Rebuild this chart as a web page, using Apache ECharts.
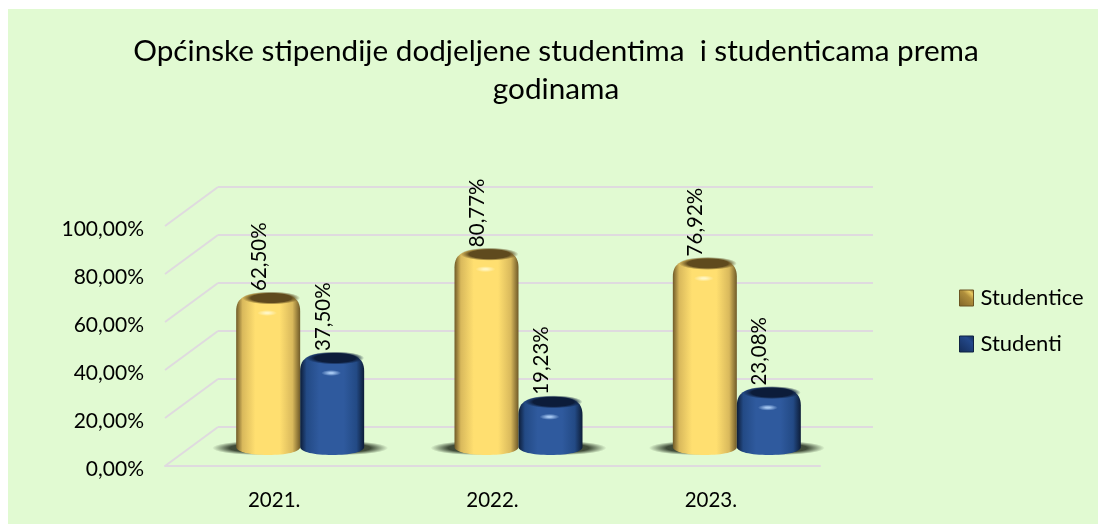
<!DOCTYPE html>
<html>
<head>
<meta charset="utf-8">
<style>
  html, body { margin: 0; padding: 0; background: #fff; }
  #chart { width: 1098px; height: 524px; }
</style>
<script src="https://cdn.jsdelivr.net/npm/echarts@6/dist/echarts.min.js"></script>
</head>
<body>
<div id="chart"></div>
<script>
const categories = ['2021.', '2022.', '2023.'];
const studentice = [62.5, 80.77, 76.92];
const studenti = [37.5, 19.23, 23.08];
const yTicks = [0, 20, 40, 60, 80, 100];
const titleText = 'Općinske stipendije dodjeljene studentima  i studenticama prema\ngodinama';

const fontName = 'Lato';
const yellow = { edge: '#6f5a28', side: '#d9b95c', mid: '#ffdf70', top: '#5f4a1e', spot: '#fff6c4' };
const blue = { edge: '#0d1d38', side: '#234a85', mid: '#2f5a9e', top: '#0c1c3a', spot: '#a4c6f0' };
const gridColor = '#dfdadf';

const fmt = v => v.toFixed(2).replace('.', ',') + '%';

// soft blob: a circle with a radial fade, squashed to an ellipse
const blob = (x, y, rx, ry, color, fade) => ({
  type: 'circle',
  x: x,
  y: y,
  scaleY: ry / rx,
  shape: { cx: 0, cy: 0, r: rx },
  style: {
    fill: new echarts.graphic.RadialGradient(0.5, 0.5, 0.5, [
      { offset: 0, color: color },
      { offset: fade, color: color },
      { offset: 1, color: echarts.color.modifyAlpha(color, 0) }
    ])
  }
});

// one cylinder, side 0 = left of the category centre, 1 = right
const cylinder = (colors, side) => (params, api) => {
  const base = api.coord([api.value(0), 0]);
  const top = api.coord([api.value(0), api.value(1)]);
  const w = 64;
  const x0 = base[0] + (side ? 0 : -w);
  const x1 = x0 + w;
  const cx = (x0 + x1) / 2;
  const by = base[1];
  const ty = top[1] - 4;
  const d = 'M' + x0 + ' ' + (ty + 18)
    + 'C' + x0 + ' ' + (ty + 4) + ' ' + (cx - 22) + ' ' + ty + ' ' + cx + ' ' + ty
    + 'C' + (cx + 22) + ' ' + ty + ' ' + x1 + ' ' + (ty + 4) + ' ' + x1 + ' ' + (ty + 18)
    + 'L' + x1 + ' ' + by
    + 'C' + x1 + ' ' + (by + 5) + ' ' + (cx + 18) + ' ' + (by + 8) + ' ' + cx + ' ' + (by + 8)
    + 'C' + (cx - 18) + ' ' + (by + 8) + ' ' + x0 + ' ' + (by + 5) + ' ' + x0 + ' ' + by + 'Z';
  return {
    type: 'group',
    children: [
      blob(cx + (side ? 12 : -12), by + 1, 44, 7, 'rgba(35,45,30,0.85)', 0.6),
      {
        type: 'path',
        shape: { pathData: d },
        style: {
          fill: new echarts.graphic.LinearGradient(0, 0, 1, 0, [
            { offset: 0, color: colors.edge },
            { offset: 0.1, color: colors.side },
            { offset: 0.3, color: colors.mid },
            { offset: 0.68, color: colors.mid },
            { offset: 0.88, color: colors.side },
            { offset: 1, color: colors.edge }
          ])
        }
      },
      blob(cx + 3, ty + 5, 29, 6.5, colors.top, 0.7),
      blob(cx - 1, ty + 20, 10, 3, colors.spot, 0.2),
      {
        type: 'text',
        x: cx - 9,
        y: ty - 2,
        rotation: Math.PI / 2,
        style: {
          text: fmt(api.value(1)),
          fontFamily: fontName,
          fontSize: 20.5,
          fill: '#000',
          align: 'left',
          verticalAlign: 'middle'
        }
      }
    ]
  };
};

const option = {
  animation: false,
  graphic: [
    { type: 'rect', z: -10, shape: { x: 8, y: 9, width: 1090, height: 515 }, style: { fill: '#e1fad2' } }
  ],
  title: {
    text: titleText,
    left: 551,
    top: 27,
    textAlign: 'center',
    textStyle: { fontFamily: fontName, fontSize: 29.7, fontWeight: 'normal', color: '#000', lineHeight: 38 }
  },
  legend: {
    orient: 'vertical',
    left: 959,
    top: 287,
    padding: 0,
    itemWidth: 14,
    itemHeight: 16,
    itemGap: 24,
    textStyle: { fontFamily: fontName, fontSize: 22, color: '#000', padding: [0, 0, 0, 2] },
    data: [
      {
        name: 'Studentice',
        icon: 'rect',
        itemStyle: {
          borderColor: '#6b5422',
          borderWidth: 1,
          color: new echarts.graphic.LinearGradient(0, 1, 1, 0, [
            { offset: 0, color: '#7d6228' },
            { offset: 0.6, color: '#b08f3c' },
            { offset: 0.8, color: '#e8c860' },
            { offset: 1, color: '#8a6f2c' }
          ])
        }
      },
      {
        name: 'Studenti',
        icon: 'rect',
        itemStyle: {
          borderColor: '#0f2342',
          borderWidth: 1,
          color: new echarts.graphic.LinearGradient(0, 1, 1, 0, [
            { offset: 0, color: '#142c58' },
            { offset: 0.7, color: '#23488a' },
            { offset: 1, color: '#142c58' }
          ])
        }
      }
    ]
  },
  grid: [
    // front plane: tick labels and floor edge
    { left: 165, width: 655, top: 226, height: 240 },
    // back wall: gridlines
    { left: 218, width: 655, top: 187, height: 240 },
    // mid depth: the cylinders stand here
    { left: 191, width: 655, top: 207, height: 240 }
  ],
  xAxis: [0, 1, 2].map(i => ({
    gridIndex: i,
    type: 'category',
    data: categories,
    axisTick: { show: false },
    axisLine: { show: i === 0, lineStyle: { color: gridColor, width: 2 } },
    axisLabel: { show: i === 0, fontFamily: fontName, fontSize: 20.5, color: '#000', margin: 24 }
  })),
  yAxis: [0, 1, 2].map(i => ({
    gridIndex: i,
    type: 'value',
    min: 0,
    max: 100,
    interval: 20,
    axisLine: { show: false },
    axisTick: { show: false },
    splitLine: { show: i === 1, lineStyle: { color: gridColor, width: 2 } },
    axisLabel: {
      show: i === 0,
      fontFamily: fontName,
      fontSize: 21,
      color: '#000',
      margin: 21,
      verticalAlign: 'top',
      lineHeight: 6,
      formatter: v => fmt(v)
    }
  })),
  series: [
    {
      // slanted lines joining the front plane to the back wall
      type: 'custom',
      name: 'depth',
      silent: true,
      xAxisIndex: 0,
      yAxisIndex: 0,
      data: yTicks.map(v => [0, v]),
      encode: { x: 0, y: 1 },
      renderItem: (params, api) => {
        const grid = params.coordSys;
        const y = api.coord([0, api.value(1)])[1];
        return {
          type: 'line',
          shape: { x1: grid.x, y1: y, x2: grid.x + 53, y2: y - 39 },
          style: { stroke: gridColor, lineWidth: 2 }
        };
      }
    },
    {
      type: 'custom',
      name: 'Studentice',
      xAxisIndex: 2,
      yAxisIndex: 2,
      z: 3,
      data: categories.map((c, i) => [i, studentice[i]]),
      encode: { x: 0, y: 1 },
      renderItem: cylinder(yellow, 0)
    },
    {
      type: 'custom',
      name: 'Studenti',
      xAxisIndex: 2,
      yAxisIndex: 2,
      z: 4,
      data: categories.map((c, i) => [i, studenti[i]]),
      encode: { x: 0, y: 1 },
      renderItem: cylinder(blue, 1)
    }
  ]
};

const chart = echarts.init(document.getElementById('chart'));
chart.setOption(option);
</script>
</body>
</html>
